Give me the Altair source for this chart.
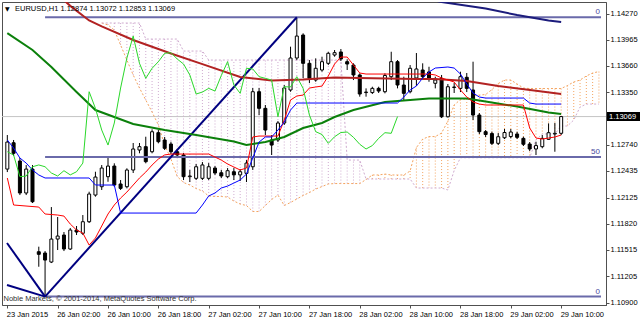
import json
import altair as alt
import pandas as pd
import numpy as np

# ---------------- data ----------------
bar_index = list(range(89))
opens = [1.12457, 1.12764, 1.12551, 1.12178, 1.12457, 1.11493, 1.11478, 1.11373, 1.11641, 1.11688,
         1.11525, 1.11746, 1.11708, 1.11843, 1.12154, 1.12251, 1.12368, 1.12492, 1.12283, 1.12251,
         1.12446, 1.12679, 1.12718, 1.12659, 1.12881, 1.12796, 1.12749, 1.12659, 1.12621, 1.12368,
         1.12349, 1.12349, 1.12349, 1.12469, 1.12414, 1.12368, 1.12426, 1.12389, 1.12407, 1.12484,
         1.13359, 1.13165, 1.12796, 1.12796, 1.12994, 1.13379, 1.13752, 1.14020, 1.13690, 1.13495,
         1.13612, 1.13690, 1.13787, 1.13822, 1.13709, 1.13670, 1.13554, 1.13349, 1.13349, 1.13398,
         1.13359, 1.13534, 1.13709, 1.13437, 1.13359, 1.13519, 1.13612, 1.13589, 1.13457, 1.13515,
         1.13067, 1.13408, 1.13398, 1.13527, 1.13379, 1.13087, 1.12893, 1.12871, 1.12757, 1.12822,
         1.12836, 1.12866, 1.12815, 1.12749, 1.12691, 1.12718, 1.12804, 1.12866, 1.12874]
highs = [1.12854, 1.12796, 1.12586, 1.12504, 1.12504, 1.11552, 1.11501, 1.12014, 1.11898, 1.11723,
         1.11770, 1.11793, 1.11921, 1.12193, 1.12426, 1.12504, 1.12601, 1.12524, 1.12329, 1.12466,
         1.12761, 1.12761, 1.12834, 1.12920, 1.12912, 1.12831, 1.12776, 1.12691, 1.12644, 1.12447,
         1.12516, 1.12539, 1.12527, 1.12492, 1.12447, 1.12469, 1.12469, 1.12457, 1.12562, 1.13402,
         1.13402, 1.13204, 1.12854, 1.13017, 1.13437, 1.13884, 1.14226, 1.14040, 1.13728, 1.13748,
         1.13767, 1.13825, 1.13845, 1.13857, 1.13737, 1.13690, 1.13573, 1.13398, 1.13417, 1.13417,
         1.13573, 1.13825, 1.13728, 1.13534, 1.13670, 1.13810, 1.13690, 1.13650, 1.13534, 1.13554,
         1.13449, 1.13460, 1.13592, 1.13577, 1.13709, 1.13110, 1.12912, 1.12893, 1.12877, 1.12924,
         1.12924, 1.12893, 1.12834, 1.12772, 1.12776, 1.12854, 1.12990, 1.12995, 1.13072]
lows = [1.12422, 1.12609, 1.12154, 1.12154, 1.12061, 1.11318, 1.10970, 1.11361, 1.11513, 1.11501,
        1.11513, 1.11688, 1.11688, 1.11828, 1.12135, 1.12213, 1.12309, 1.12251, 1.12213, 1.12232,
        1.12411, 1.12641, 1.12524, 1.12641, 1.12757, 1.12679, 1.12632, 1.12597, 1.12329, 1.12306,
        1.12329, 1.12329, 1.12329, 1.12388, 1.12353, 1.12353, 1.12329, 1.12318, 1.12306, 1.12447,
        1.13087, 1.12854, 1.12621, 1.12772, 1.12971, 1.13359, 1.13728, 1.13519, 1.13460, 1.13475,
        1.13592, 1.13670, 1.13767, 1.13717, 1.13612, 1.13495, 1.13301, 1.13301, 1.13332, 1.13344,
        1.13340, 1.13495, 1.13398, 1.13262, 1.13340, 1.13425, 1.13495, 1.13475, 1.13398, 1.13052,
        1.13058, 1.13344, 1.13355, 1.13355, 1.13029, 1.12866, 1.12831, 1.12737, 1.12737, 1.12807,
        1.12815, 1.12807, 1.12726, 1.12667, 1.12621, 1.12699, 1.12796, 1.12659, 1.12853]
closes = [1.12772, 1.12641, 1.12178, 1.12457, 1.12076, 1.11463, 1.11396, 1.11641, 1.11676, 1.11525,
          1.11746, 1.11723, 1.11843, 1.12166, 1.12364, 1.12469, 1.12492, 1.12271, 1.12232, 1.12446,
          1.12691, 1.12718, 1.12543, 1.12892, 1.12776, 1.12699, 1.12659, 1.12621, 1.12368, 1.12376,
          1.12484, 1.12505, 1.12484, 1.12411, 1.12376, 1.12438, 1.12389, 1.12426, 1.12527, 1.13359,
          1.13165, 1.12912, 1.12737, 1.12994, 1.13402, 1.13752, 1.14008, 1.13690, 1.13515, 1.13632,
          1.13709, 1.13807, 1.13814, 1.13740, 1.13682, 1.13554, 1.13332, 1.13355, 1.13398, 1.13367,
          1.13548, 1.13709, 1.13437, 1.13340, 1.13632, 1.13624, 1.13534, 1.13515, 1.13495, 1.13067,
          1.13417, 1.13414, 1.13534, 1.13398, 1.13087, 1.12893, 1.12860, 1.12757, 1.12834, 1.12883,
          1.12889, 1.12827, 1.12746, 1.12691, 1.12731, 1.12815, 1.12881, 1.12874, 1.13069]

x_tick_index = [0, 8, 16, 24, 32, 40, 48, 56, 64, 72, 80, 88]
x_tick_labels = ["23 Jan 2015", "26 Jan 02:00", "26 Jan 10:00", "26 Jan 18:00", "27 Jan 02:00",
                 "27 Jan 10:00", "27 Jan 18:00", "28 Jan 02:00", "28 Jan 10:00", "28 Jan 18:00",
                 "29 Jan 02:00", "29 Jan 10:00"]
y_tick_values = [1.14270, 1.13965, 1.13660, 1.13350, 1.12740, 1.12435, 1.12125, 1.11820,
                 1.11515, 1.11205, 1.10900]

title_text = "EURUSD,H1  1.12874 1.13072 1.12853 1.13069"
copyright_text = "Noble Markets, \u00a9 2001-2014, MetaQuotes Software Corp."
current_price = 1.13069

fib_levels = [1.14227, 1.12599, 1.10970]
fib_labels = ["0", "50", "0"]
fib_start = 6

# Ichimoku Tenkan-sen (breakpoints)
tenkan_idx = [0, 1, 5, 6, 8, 9, 10, 11, 12, 13, 14, 15, 16, 17, 18, 19, 20, 21, 22, 23, 24, 25, 26,
              32, 33, 34, 35, 36, 37, 38, 39, 40, 43, 44, 45, 46, 47, 48, 49, 50, 51, 52, 53, 54,
              55, 56, 57, 67, 68, 69, 70, 71, 72, 73, 74, 75, 76, 82, 83, 84, 85, 86, 87, 88]
tenkan_val = [1.12353, 1.12038, 1.12014, 1.11933, 1.11921, 1.11909, 1.11816, 1.11746, 1.11711,
              1.11571, 1.11653, 1.11793, 1.11933, 1.12038, 1.12119, 1.12189, 1.12271, 1.12353,
              1.12422, 1.12504, 1.12574, 1.12622, 1.12632, 1.12632, 1.12597, 1.12562, 1.12516,
              1.12481, 1.12446, 1.12469, 1.12831, 1.12842, 1.12842, 1.13029, 1.13262, 1.13309,
              1.13320, 1.13402, 1.13414, 1.13425, 1.13542, 1.13682, 1.13763, 1.13763, 1.13670,
              1.13577, 1.13565, 1.13565, 1.13554, 1.13519, 1.13495, 1.13472, 1.13379, 1.13297,
              1.13239, 1.13215, 1.13204, 1.13204, 1.12936, 1.12819, 1.12807, 1.12819, 1.12831,
              1.12854]

# Ichimoku Kijun-sen (breakpoints)
kijun_idx = [0, 1, 2, 3, 4, 5, 6, 13, 14, 17, 18, 30, 31, 32, 33, 34, 35, 36, 37, 38, 39, 40, 41,
             42, 43, 44, 45, 46, 62, 63, 64, 65, 66, 67, 68, 70, 71, 72, 73, 74, 75, 76, 82, 83,
             84, 88]
kijun_val = [1.12796, 1.12702, 1.12586, 1.12527, 1.12446, 1.12388, 1.12353, 1.12353, 1.12271,
             1.12271, 1.11944, 1.11944, 1.12038, 1.12143, 1.12178, 1.12236, 1.12259, 1.12294,
             1.12329, 1.12399, 1.12586, 1.12772, 1.12831, 1.12831, 1.12912, 1.13006, 1.13145,
             1.13227, 1.13227, 1.13297, 1.13379, 1.13425, 1.13519, 1.13589, 1.13635, 1.13647,
             1.13635, 1.13565, 1.13449, 1.13344, 1.13297, 1.13285, 1.13285, 1.13227, 1.13215,
             1.13215]

# Ichimoku cloud (Senkou span A / B), bars 15..94
span_idx = list(range(15, 95))
span_a = [1.14160, 1.14137, 1.14078, 1.13903, 1.13728, 1.13554, 1.13402, 1.13262, 1.13122, 1.12971,
          1.12737, 1.12574, 1.12370, 1.12300, 1.12271, 1.12230, 1.12201, 1.12143, 1.12137, 1.12137,
          1.12131, 1.12084, 1.12049, 1.12032, 1.11962, 1.11962, 1.12032, 1.12102, 1.12154, 1.12032,
          1.12067, 1.12108, 1.12149, 1.12183, 1.12224, 1.12253, 1.12283, 1.12288, 1.12288, 1.12288,
          1.12288, 1.12288, 1.12335, 1.12388, 1.12388, 1.12399, 1.12388, 1.12388, 1.12388, 1.12434,
          1.12708, 1.12807, 1.12836, 1.12836, 1.12877, 1.13017, 1.13204, 1.13268, 1.13274, 1.13315,
          1.13320, 1.13326, 1.13384, 1.13454, 1.13495, 1.13495, 1.13449, 1.13402, 1.13396, 1.13396,
          1.13396, 1.13396, 1.13396, 1.13396, 1.13431, 1.13472, 1.13495, 1.13542, 1.13577, 1.13594]
span_b = [1.14160, 1.14160, 1.14160, 1.14160, 1.14160, 1.14160, 1.14160, 1.13973, 1.13973, 1.13973,
          1.13973, 1.13973, 1.13973, 1.13833, 1.13833, 1.13833, 1.13833, 1.13728, 1.13728, 1.13728,
          1.13728, 1.13728, 1.13728, 1.13728, 1.13728, 1.13728, 1.13728, 1.13728, 1.13728, 1.13728,
          1.13728, 1.13728, 1.13728, 1.13728, 1.13728, 1.13728, 1.13728, 1.13728, 1.13728, 1.12562,
          1.12562, 1.12562, 1.12341, 1.12341, 1.12341, 1.12341, 1.12341, 1.12341, 1.12341, 1.12341,
          1.12236, 1.12236, 1.12236, 1.12236, 1.12236, 1.12213, 1.12440, 1.12589, 1.12589, 1.12589,
          1.12589, 1.12589, 1.12589, 1.12589, 1.12589, 1.12589, 1.12589, 1.12589, 1.12589, 1.12796,
          1.12866, 1.12866, 1.12866, 1.12959, 1.12959, 1.13029, 1.13180, 1.13215, 1.13215, 1.13215]

# moving averages
ma_red_idx = [7, 10, 13, 15, 20, 26, 31, 37, 42, 47, 52, 58, 65, 68, 73, 78, 84, 88]
ma_red_val = [1.14560, 1.14360, 1.14190, 1.14120, 1.13962, 1.13805, 1.13680, 1.13530, 1.13489,
              1.13501, 1.13524, 1.13517, 1.13507, 1.13507, 1.13484, 1.13425, 1.13370, 1.13332]
ma_green_idx = [0, 4, 7, 11, 14, 20, 25, 30, 36, 38, 41, 44, 47, 50, 52, 55, 60, 67, 73, 76, 81,
                86, 88]
ma_green_val = [1.14043, 1.13845, 1.13647, 1.13355, 1.13145, 1.12982, 1.12912, 1.12854, 1.12778,
                1.12737, 1.12772, 1.12831, 1.12936, 1.12994, 1.13064, 1.13145, 1.13239, 1.13280,
                1.13280, 1.13245, 1.13186, 1.13116, 1.13099]
ma_navy_idx = [65, 69, 76, 81, 86, 88]
ma_navy_val = [1.14470, 1.14405, 1.14329, 1.14253, 1.14189, 1.14172]

# trend lines (start index, start price, end index, end price)
trend_x1 = [-0.05, -0.05, 6]
trend_p1 = [1.11595, 1.11105, 1.10970]
trend_x2 = [6, 6, 46]
trend_p2 = [1.10970, 1.10970, 1.14227]

X_DOMAIN = [-0.05, 94.33]
Y_DOMAIN = [1.10872, 1.14405]

# ---------------- styles ----------------
FONT = "Liberation Sans"
SANDY = "#f4a460"
THISTLE = "#cfaacf"
FRAME = "#505050"

xscale = alt.Scale(domain=X_DOMAIN, nice=False, zero=False)
yscale = alt.Scale(domain=Y_DOMAIN, nice=False, zero=False)
label_expr = json.dumps(x_tick_labels) + "[round(datum.value/8)]"
xaxis = alt.Axis(values=x_tick_index, labelExpr=label_expr, title=None, grid=False,
                 orient="bottom", labelAlign="left", labelBaseline="top", labelPadding=2,
                 labelOffset=-1, labelFontSize=7.5, labelFont=FONT, labelColor="black",
                 tickSize=3, tickColor=FRAME, domainColor=FRAME, labelOverlap=False,
                 labelBound=False, labelFlush=False)
yaxis = alt.Axis(values=y_tick_values, format=".5f", title=None, grid=False, orient="right",
                 labelFontSize=7.5, labelFont=FONT, labelColor="black", labelPadding=1,
                 tickSize=3, tickColor=FRAME, domainColor=FRAME, labelOverlap=False,
                 labelBound=False, labelFlush=False)


def X(f):
    return alt.X(f, type="quantitative", scale=xscale, axis=xaxis)


def Y(f):
    return alt.Y(f, type="quantitative", scale=yscale, axis=yaxis)


# ---------------- frames ----------------
candles = pd.DataFrame({"i": bar_index, "open": opens, "high": highs, "low": lows, "close": closes})
candles["dir"] = np.where(candles["close"] >= candles["open"], "bull", "bear")

chikou = pd.DataFrame({"i": bar_index[:-26], "v": closes[26:]})
tenkan = pd.DataFrame({"i": tenkan_idx, "v": tenkan_val})
kijun = pd.DataFrame({"i": kijun_idx, "v": kijun_val})
cloud = pd.DataFrame({"i": span_idx, "a": span_a, "b": span_b})
cloud["kind"] = np.where(cloud["a"] >= cloud["b"], "upk", "dnk")
ma_red = pd.DataFrame({"i": ma_red_idx, "v": ma_red_val})
ma_green = pd.DataFrame({"i": ma_green_idx, "v": ma_green_val})
ma_navy = pd.DataFrame({"i": ma_navy_idx, "v": ma_navy_val})
trends = pd.DataFrame({"x1": trend_x1, "p1": trend_p1, "x2": trend_x2, "p2": trend_p2})
fibs = pd.DataFrame({"x1": [fib_start] * 3, "x2": [X_DOMAIN[1]] * 3, "level": fib_levels,
                     "lab": fib_labels})
cur = pd.DataFrame({"p": [current_price], "t": [f"{current_price:.5f}"]})

# ---------------- layers ----------------
price_line = alt.Chart(cur).mark_rule(color="#c4c4c4", strokeWidth=1).encode(y=Y("p"))

cloud_rules = alt.Chart(cloud).mark_rule(strokeWidth=1, strokeDash=[1, 2], clip=True).encode(
    x=X("i"), y=Y("a"), y2=alt.Y2("b"),
    color=alt.Color("kind:N", scale=alt.Scale(domain=["upk", "dnk"], range=[SANDY, THISTLE]),
                    legend=None))
span_a_line = alt.Chart(cloud).mark_line(color=SANDY, strokeWidth=1, strokeDash=[2, 2],
                                         clip=True).encode(x=X("i"), y=Y("a"))
span_b_line = alt.Chart(cloud).mark_line(color=THISTLE, strokeWidth=1, strokeDash=[2, 2],
                                         clip=True).encode(x=X("i"), y=Y("b"))

wicks = alt.Chart(candles).mark_rule(color="black", strokeWidth=1).encode(
    x=X("i"), y=Y("low"), y2=alt.Y2("high"))
bodies = alt.Chart(candles).mark_bar(size=3, stroke="black", strokeWidth=1).encode(
    x=X("i"), y=Y("open"), y2=alt.Y2("close"),
    fill=alt.Fill("dir:N", scale=alt.Scale(domain=["bull", "bear"], range=["white", "black"]),
                  legend=None))

fib_rules = alt.Chart(fibs).mark_rule(color="#6a6aaa", strokeWidth=2).encode(
    x=X("x1"), x2=alt.X2("x2"), y=Y("level"))
fib_text = alt.Chart(fibs).mark_text(align="right", baseline="bottom", dx=-1, dy=-1,
                                     fontSize=8, font=FONT, color="#4848a0").encode(
    x=X("x2"), y=Y("level"), text="lab:N")

trend_rules = alt.Chart(trends).mark_rule(color="#000080", strokeWidth=2, clip=True).encode(
    x=X("x1"), y=Y("p1"), x2=alt.X2("x2"), y2=alt.Y2("p2"))


def line(df, color, width):
    return alt.Chart(df).mark_line(color=color, strokeWidth=width, clip=True).encode(
        x=X("i"), y=Y("v"))


red_ma = line(ma_red, "#b22222", 2)
green_ma = line(ma_green, "#0b800b", 2)
navy_ma = line(ma_navy, "#1c1c7c", 2)
tenkan_line = line(tenkan, "#ff0000", 1)
kijun_line = line(kijun, "#0000ff", 1)
chikou_line = line(chikou, "#2ad82a", 1)

price_box = alt.Chart(cur).mark_rule(color="black", strokeWidth=9, strokeCap="butt").encode(
    x=alt.value(605), x2=alt.value(638), y=Y("p"))
price_text = alt.Chart(cur).mark_text(align="left", baseline="middle", color="white",
                                      fontSize=7.5, font=FONT).encode(
    x=alt.value(607), y=Y("p"), text="t:N")

title_df = pd.DataFrame({"t": [title_text]})
title = alt.Chart(title_df).mark_text(align="left", baseline="middle", fontSize=7.5, font=FONT,
                                      color="black").encode(
    x=alt.value(13), y=alt.value(6.5), text="t:N")
tri = alt.Chart(pd.DataFrame({"t": ["\u25bc"]})).mark_text(
    align="left", baseline="middle", fontSize=6, font="DejaVu Sans", color="black").encode(
    x=alt.value(3), y=alt.value(6.5), text="t:N")
copyright_df = pd.DataFrame({"t": [copyright_text]})
copyright = alt.Chart(copyright_df).mark_text(align="left", baseline="middle", fontSize=7.5,
                                              font=FONT, color="#303030").encode(
    x=alt.value(1.5), y=alt.value(296.5), text="t:N")

chart = alt.layer(
    price_line, cloud_rules, span_a_line, span_b_line, wicks, bodies,
    fib_rules, trend_rules, red_ma, green_ma, navy_ma,
    tenkan_line, kijun_line, chikou_line, fib_text,
    price_box, price_text, title, tri, copyright,
).properties(
    width=604, height=303,
    padding={"left": 2, "top": 2, "right": 34, "bottom": 15},
    autosize=alt.AutoSizeParams(type="none"),
    background="white",
).configure_view(stroke=FRAME, strokeWidth=1)

chart.save("out.html", embed_options={"renderer": "svg", "actions": False})
